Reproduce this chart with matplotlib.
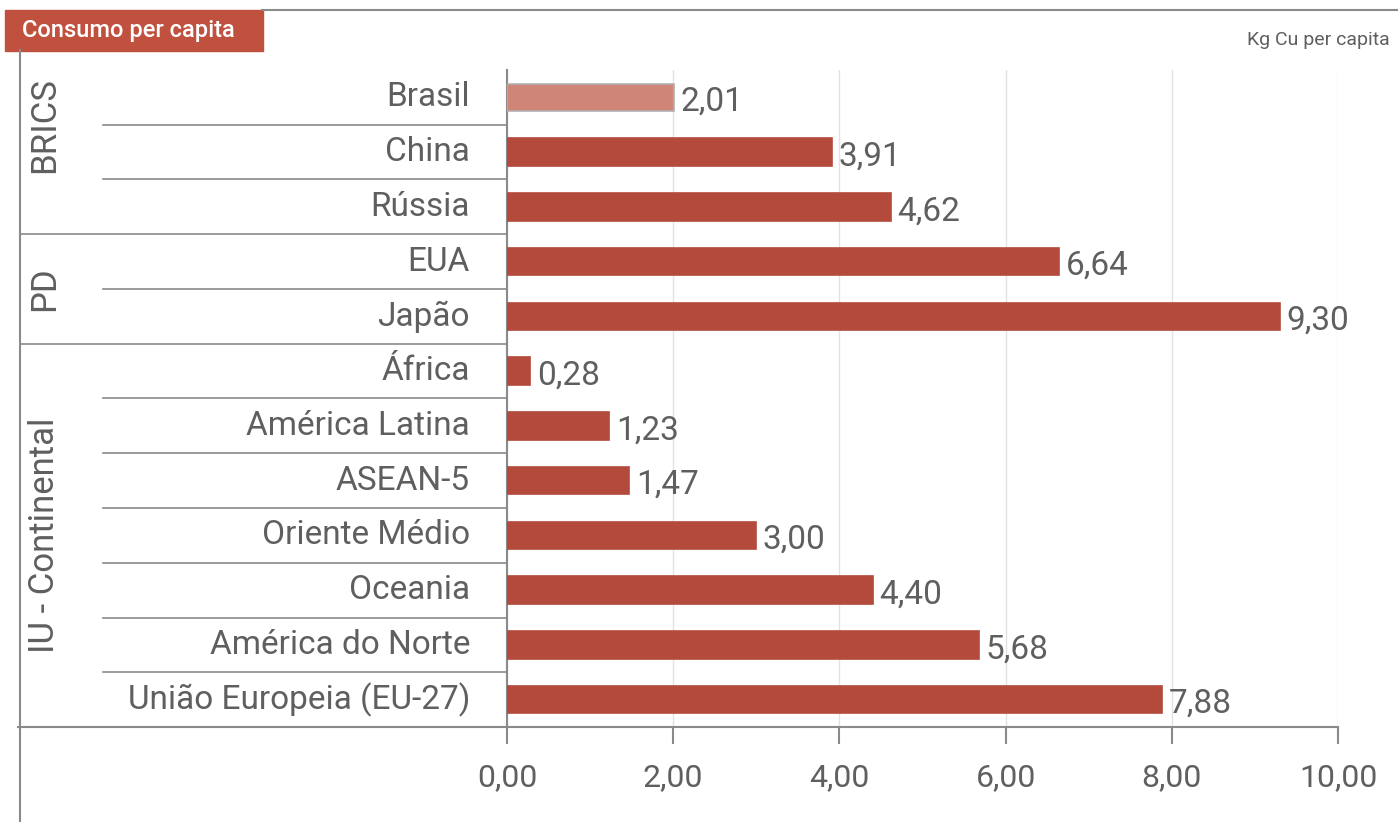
#!/usr/bin/env python3
"""Consumo per capita de cobre por região (Kg Cu per capita)."""
import matplotlib
matplotlib.use("Agg")
import matplotlib.pyplot as plt
from matplotlib.transforms import blended_transform_factory
from matplotlib.patches import Rectangle
from matplotlib.lines import Line2D

categories = ["Brasil", "China", "Rússia", "EUA", "Japão", "África",
              "América Latina", "ASEAN-5", "Oriente Médio", "Oceania",
              "América do Norte", "União Europeia (EU-27)"]
values = [2.01, 3.91, 4.62, 6.64, 9.30, 0.28, 1.23, 1.47, 3.00, 4.40, 5.68, 7.88]
groups = ["BRICS", "PD", "IU - Continental"]
group_sizes = [3, 2, 7]
xticks = [0, 2, 4, 6, 8, 10]

W, H = 1398, 822
BAR = "#B34A3C"
HILITE = "#D08579"
TEXT = "#5f5f5f"
LINE = "#8a8a8a"

plt.rcParams["font.family"] = ["Roboto", "DejaVu Sans"]

fig = plt.figure(figsize=(W / 100, H / 100), dpi=100)
ax = fig.add_axes([507 / W, 1 - 727 / H, (1338 - 507) / W, (727 - 70) / H])

ypos = list(range(len(categories)))
colors = [HILITE if c == "Brasil" else BAR for c in categories]
edges = ["#b0b0b0" if c == "Brasil" else BAR for c in categories]
ax.barh(ypos, values, height=0.5, color=colors, edgecolor=edges, linewidth=1.2, zorder=3)

# value labels, decimal comma
for y, v in zip(ypos, values):
    ax.text(v + 0.08, y + 0.08, f"{v:.2f}".replace(".", ","), va="center", ha="left",
            fontsize=24, color=TEXT)

ax.set_xlim(0, 10)
ax.set_ylim(len(categories) - 0.5, -0.5)
ax.set_xticks(xticks)
ax.set_xticklabels([f"{t:.2f}".replace(".", ",") for t in xticks], fontsize=23, color=TEXT)
ax.set_yticks([])
ax.grid(axis="x", color="#e2e2e2", linewidth=1, zorder=0)
for s in ["top", "right"]:
    ax.spines[s].set_visible(False)
for s in ["left", "bottom"]:
    ax.spines[s].set_color(LINE)
    ax.spines[s].set_linewidth(1.5)
ax.tick_params(axis="x", direction="out", length=12, width=1.5, color=LINE, pad=14)

# category labels in the label area
trans = blended_transform_factory(fig.transFigure, ax.transData)
for y, c in zip(ypos, categories):
    ax.text(470 / W, y, c, transform=trans, ha="right", va="center",
            fontsize=24, color=TEXT)

# row separators; group boundaries run out to the frame
bounds = []
acc = 0
for n in group_sizes:
    acc += n
    bounds.append(acc - 0.5)
for i in range(len(categories) - 1):
    b = i + 0.5
    x0 = 20 / W if b in bounds else 103 / W
    fig.add_artist(Line2D([x0, 507 / W], [b, b], transform=trans, color=LINE, linewidth=1.2))
fig.add_artist(Line2D([18 / W, 507 / W], [len(categories) - 0.5] * 2, transform=trans,
                      color=LINE, linewidth=1.5))

# group labels
start = 0
for g, n in zip(groups, group_sizes):
    mid = 0.5 if start == 0 else start + (n - 1) / 2
    ax.text(45 / W, mid, g, transform=trans, rotation=90, ha="center", va="center",
            fontsize=25, color=TEXT)
    start += n

# frame lines and title box
fig.add_artist(Line2D([20 / W, 20 / W], [0, 1 - 50 / H], color=LINE, linewidth=1.5))
fig.add_artist(Line2D([262 / W, 1], [1 - 10 / H] * 2, color=LINE, linewidth=1.5))
fig.add_artist(Rectangle((5 / W, 1 - 51 / H), (263 - 5) / W, 41 / H, color="#C0513F",
                         transform=fig.transFigure))
fig.text(22 / W, 1 - 31 / H, "Consumo per capita", ha="left", va="center",
         fontsize=17, color="white", fontweight="medium")
fig.text(1390 / W, 1 - 40 / H, "Kg Cu per capita", ha="right", va="center",
         fontsize=14, color=TEXT)

fig.savefig("out.png", dpi=100)
